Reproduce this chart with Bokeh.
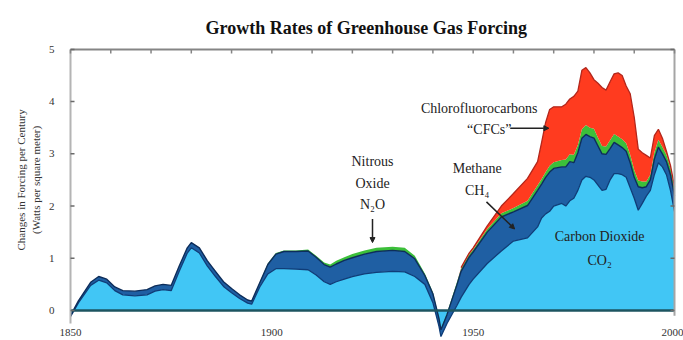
import numpy as np
from bokeh.plotting import figure
from bokeh.models import (ColumnDataSource, LinearAxis, FixedTicker,
                          Label, Arrow, NormalHead, Range1d)
from bokeh.embed import file_html
from bokeh.resources import INLINE

# Growth rate of greenhouse gas forcing, W/m² per century, by gas
years = [1850, 1852, 1855, 1857, 1859, 1861, 1863, 1866, 1869, 1871, 1873, 1875, 1877, 1879,
         1880, 1882, 1884, 1886, 1888, 1890, 1892, 1894, 1895, 1897, 1899, 1901, 1903, 1906,
         1909, 1911, 1913, 1914.5, 1916, 1918, 1920, 1923, 1926, 1930, 1933, 1935.5, 1938,
         1940, 1941.5, 1942, 1943.5, 1946, 1947, 1949, 1950, 1953.5, 1957, 1960, 1963.5,
         1966, 1967, 1968, 1969, 1970, 1972, 1973, 1974, 1975, 1976, 1977, 1978, 1979, 1980,
         1981, 1982, 1983, 1984, 1985, 1986, 1987, 1988, 1989, 1990, 1991, 1992, 1993, 1994,
         1995, 1996, 1997, 1998, 1999, 2000]
co2 = [-0.12, 0.15, 0.48, 0.58, 0.53, 0.38, 0.30, 0.28, 0.30, 0.37, 0.40, 0.38, 0.75, 1.10,
       1.20, 1.10, 0.85, 0.65, 0.46, 0.34, 0.23, 0.14, 0.12, 0.45, 0.70, 0.80, 0.80, 0.79,
       0.78, 0.68, 0.55, 0.50, 0.55, 0.60, 0.65, 0.70, 0.73, 0.75, 0.74, 0.65, 0.50,
       0.15, -0.30, -0.50, -0.25, 0.10, 0.25, 0.50, 0.60, 0.90, 1.14, 1.33, 1.39,
       1.60, 1.77, 1.85, 1.90, 2.00, 2.05, 2.00, 2.10, 2.15, 2.30, 2.50, 2.57, 2.55, 2.50,
       2.40, 2.30, 2.32, 2.50, 2.62, 2.62, 2.60, 2.55, 2.35, 2.15, 1.92, 2.05, 2.19, 2.30,
       2.60, 2.83, 2.75, 2.60, 2.30, 1.90]
ch4 = [0.02, 0.04, 0.06, 0.07, 0.07, 0.07, 0.08, 0.09, 0.10, 0.10, 0.10, 0.10, 0.10, 0.10,
       0.10, 0.10, 0.10, 0.10, 0.09, 0.08, 0.07, 0.06, 0.06, 0.08, 0.18, 0.28, 0.33, 0.34,
       0.36, 0.34, 0.33, 0.33, 0.34, 0.36, 0.36, 0.38, 0.40, 0.40, 0.39, 0.34, 0.17,
       0.17, 0.15, 0.13, 0.17, 0.40, 0.50, 0.52, 0.52, 0.60, 0.65, 0.56, 0.62,
       0.70, 0.65, 0.70, 0.75, 0.72, 0.70, 0.75, 0.75, 0.68, 0.72, 0.80, 0.80, 0.78, 0.80,
       0.75, 0.70, 0.67, 0.60, 0.60, 0.55, 0.52, 0.50, 0.48, 0.40, 0.45, 0.30, 0.18, 0.20,
       0.30, 0.30, 0.25, 0.25, 0.30, 0.30]
n2o = [0.00, 0.00, 0.00, 0.00, 0.00, 0.00, 0.00, 0.00, 0.00, 0.00, 0.00, 0.00, 0.00, 0.00,
       0.00, 0.00, 0.00, 0.00, 0.00, 0.00, 0.00, 0.00, 0.00, 0.01, 0.02, 0.02, 0.02, 0.02,
       0.03, 0.03, 0.04, 0.05, 0.06, 0.06, 0.07, 0.07, 0.07, 0.07, 0.07, 0.06, 0.04,
       0.03, 0.02, 0.02, 0.03, 0.05, 0.05, 0.05, 0.05, 0.06, 0.07, 0.07, 0.09,
       0.10, 0.10, 0.10, 0.12, 0.12, 0.13, 0.14, 0.14, 0.15, 0.15, 0.17, 0.18, 0.17, 0.18,
       0.16, 0.15, 0.15, 0.16, 0.16, 0.16, 0.16, 0.15, 0.15, 0.14, 0.12, 0.12, 0.10, 0.10,
       0.13, 0.14, 0.13, 0.13, 0.13, 0.13]
cfcs = [0.00, 0.00, 0.00, 0.00, 0.00, 0.00, 0.00, 0.00, 0.00, 0.00, 0.00, 0.00, 0.00, 0.00,
        0.00, 0.00, 0.00, 0.00, 0.00, 0.00, 0.00, 0.00, 0.00, 0.00, 0.00, 0.00, 0.00, 0.00,
        0.00, 0.00, 0.00, 0.00, 0.00, 0.00, 0.00, 0.00, 0.00, 0.00, 0.00, 0.00, 0.00,
        0.00, 0.00, 0.00, 0.00, 0.00, 0.02, 0.03, 0.03, 0.06, 0.14, 0.28, 0.43,
        0.45, 0.70, 0.95, 1.08, 1.06, 1.02, 1.06, 1.06, 1.12, 1.03, 1.13, 1.10, 1.05, 0.94,
        1.04, 1.12, 1.08, 1.12, 1.15, 1.22, 1.22, 1.10, 1.17, 1.01, 0.60, 0.55, 0.50, 0.32,
        0.32, 0.20, 0.17, 0.07, 0.05, 0.04]

y_ticks = [0, 1, 2, 3, 4, 5]
decade_ticks = [1850, 1860, 1870, 1880, 1890, 1900, 1910, 1920, 1930, 1940, 1950, 1960,
                1970, 1980, 1990, 2000]
x_label_years = [1850, 1900, 1950, 2000]
x_tick_labels = ["1850", "1900", "1950", "2000"]

SERIF = "Liberation Serif"
W, H = 683, 340
PLOT_LEFT, PLOT_RIGHT = 70, 674          # canvas pixels spanned by 1850..2000
X0, X1 = 1850, 2000
Y_TOP, Y_LOW = 5.0, -0.25
px_per_year = (PLOT_RIGHT - PLOT_LEFT) / (X1 - X0)

# stacked layer boundaries
yr = np.array(years, dtype=float)
b1 = np.array(co2)
b2 = b1 + np.array(ch4)
b3 = b2 + np.array(n2o)
b4 = b3 + np.array(cfcs)
cfc_edge = np.where(np.array(cfcs) > 0, b4, np.nan)

src = ColumnDataSource(dict(year=yr, zero=np.zeros_like(yr), b1=b1, b2=b2, b3=b3, b4=b4,
                            cfc_edge=cfc_edge))

# the frame spans the full canvas width so that side texts are not clipped
x_range = Range1d(X0 - PLOT_LEFT / px_per_year, X0 + (W - PLOT_LEFT) / px_per_year)
p = figure(width=W, height=H, x_range=x_range, y_range=Range1d(-0.575, 5.17),
           output_backend="svg", toolbar_location=None,
           x_axis_location=None, y_axis_location=None,
           min_border_left=0, min_border_right=0, min_border_top=40, min_border_bottom=0)
p.grid.visible = False
p.outline_line_color = None
p.background_fill_color = "white"
p.border_fill_color = "white"

# filled layers
p.varea(x="year", y1="zero", y2="b1", source=src, fill_color="#41c6f5")
p.varea(x="year", y1="b1", y2="b2", source=src, fill_color="#1f5fa3")
p.varea(x="year", y1="b2", y2="b3", source=src, fill_color="#3cbf3a")
p.varea(x="year", y1="b3", y2="b4", source=src, fill_color="#ff3b1f")

# layer edges
p.line(x="year", y="b1", source=src, line_color="#0f3d78", line_width=1.3)
p.line(x="year", y="cfc_edge", source=src, line_color="#b3261b", line_width=1.3)
p.line(x="year", y="b2", source=src, line_color="#0d2d5a", line_width=1.4)

# zero line across the data span
p.line(x=[X0, X1], y=[0, 0], line_color="#1d5560", line_width=2.5)

# plot border: left axis line, top and right edges, inward tick marks
p.line(x=[X0, X0], y=[Y_LOW, Y_TOP], line_color="#b4b4b4", line_width=2)
p.line(x=[X0, X1], y=[Y_TOP, Y_TOP], line_color="#858585", line_width=2)
p.line(x=[X1, X1], y=[-0.1, Y_TOP], line_color="#a5a5a5", line_width=2)
tick_dx = 4 / px_per_year
tick_dy = 4 * 5.745 / 300
p.segment(x0=decade_ticks, y0=[Y_TOP] * len(decade_ticks),
          x1=decade_ticks, y1=[Y_TOP - tick_dy] * len(decade_ticks),
          line_color="#858585", line_width=1.5)
p.segment(x0=[X0] * len(y_ticks), y0=y_ticks, x1=[X0 + tick_dx] * len(y_ticks), y1=y_ticks,
          line_color="#6a6a6a", line_width=1.5)
p.segment(x0=[X1 - tick_dx] * len(y_ticks), y0=y_ticks, x1=[X1] * len(y_ticks), y1=y_ticks,
          line_color="#6a6a6a", line_width=1.5)

# y tick labels from an axis pinned at 1850
yax = LinearAxis(ticker=FixedTicker(ticks=y_ticks), fixed_location=X0)
yax.axis_line_color = None
yax.major_tick_line_color = None
yax.minor_tick_line_color = None
yax.major_label_text_font = SERIF
yax.major_label_text_font_size = "11px"
yax.major_label_text_color = "#333333"
yax.major_label_standoff = 10
p.add_layout(yax, "left")

# year labels along the bottom
for yv, txt in zip(x_label_years, x_tick_labels):
    p.add_layout(Label(x=yv, y=-0.42, text=txt, text_font=SERIF, text_font_size="11px",
                       text_color="#333333", text_align="center", text_baseline="middle",
                       x_offset=-2 if yv == X1 else 0))

# title
p.title.text = "Growth Rates of Greenhouse Gas Forcing"
p.title.align = "left"
p.title.offset = 205
p.title.standoff = 6
p.title.text_font = SERIF
p.title.text_font_size = "18px"
p.title.text_font_style = "bold"
p.title.text_color = "#111111"

# vertical axis title
for xs, txt in [(20, "Changes in Forcing per Century"), (35, "(Watts per square meter)")]:
    p.add_layout(Label(x=xs, y=2.5, x_units="screen", text=txt, angle=np.pi / 2,
                       text_font=SERIF, text_font_size="11px", text_color="#333333",
                       text_align="center", text_baseline="middle"))

# gas annotations
def note(x, y, txt):
    p.add_layout(Label(x=x, y=y, text=txt, text_font=SERIF, text_font_size="14px",
                       text_color="#222222", text_align="center", text_baseline="middle"))

note(1925, 2.86, "Nitrous")
note(1925, 2.44, "Oxide")
note(1925, 2.02, "N₂O")
note(1951.5, 3.87, "Chlorofluorocarbons")
note(1954.0, 3.47, "\u201cCFCs\u201d")
note(1951.0, 2.71, "Methane")
note(1951.0, 2.29, "CH₄")
note(1981.4, 1.41, "Carbon Dioxide")
note(1981.4, 0.95, "CO₂")

head = dict(size=5, fill_color="#222222", line_color="#222222")
p.add_layout(Arrow(x_start=1925, y_start=1.75, x_end=1925, y_end=1.30,
                   line_color="#222222", line_width=1.5, end=NormalHead(**head)))
p.add_layout(Arrow(x_start=1959.2, y_start=3.49, x_end=1968.8, y_end=3.49,
                   line_color="#222222", line_width=1.5, end=NormalHead(**head)))
p.add_layout(Arrow(x_start=1953.3, y_start=2.08, x_end=1960.3, y_end=1.56,
                   line_color="#222222", line_width=1.5, end=NormalHead(**head)))

open("out.html", "w").write(file_html(p, INLINE))
